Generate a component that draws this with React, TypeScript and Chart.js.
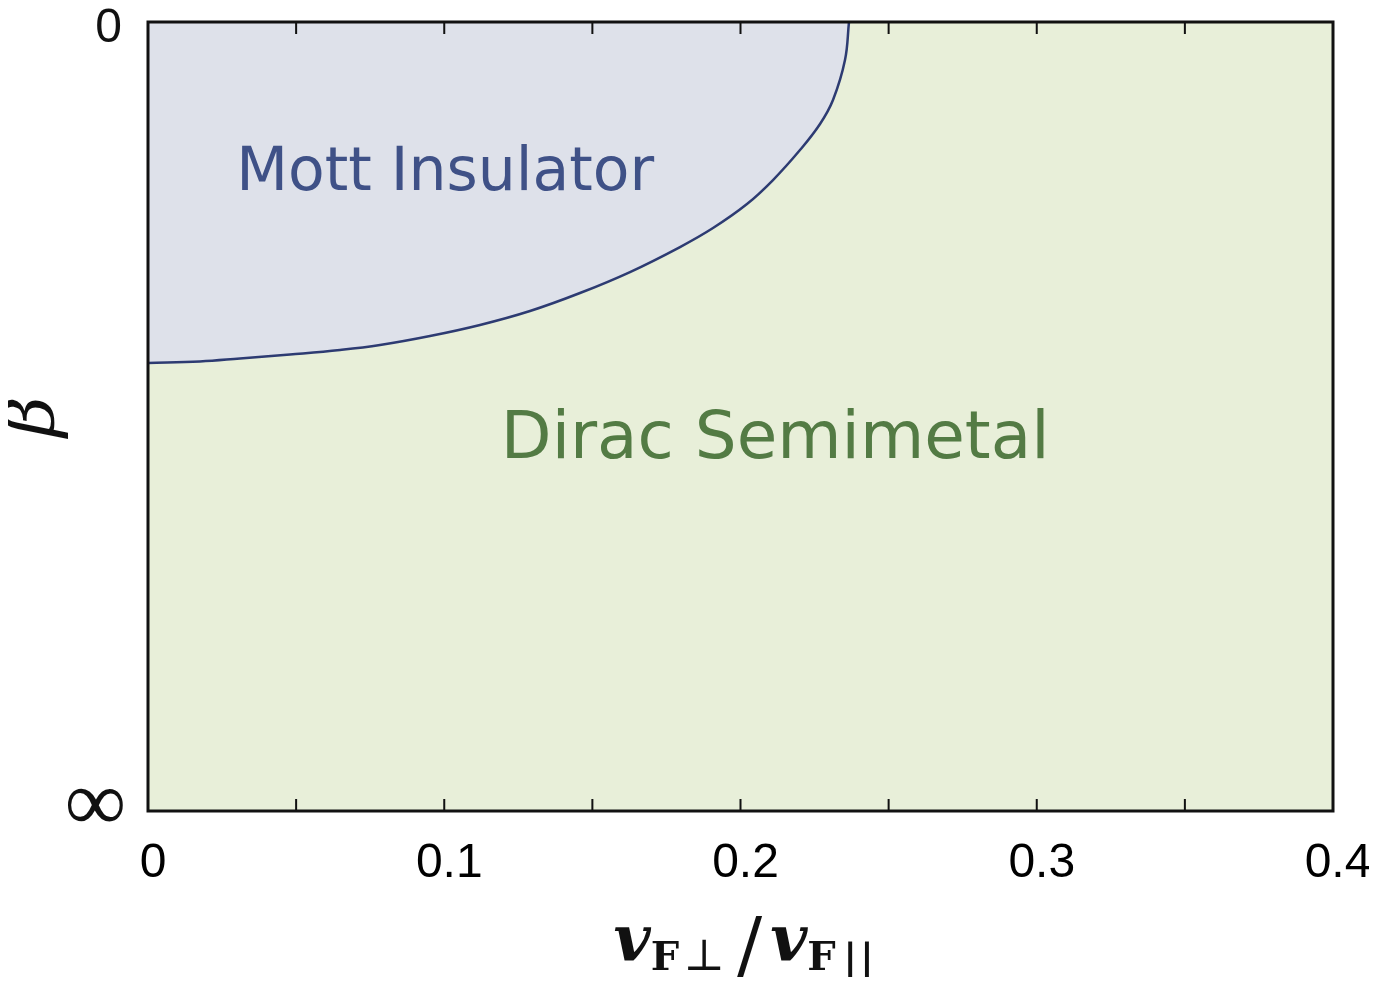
import React, { useEffect, useRef } from 'react';
import { Chart, registerables } from 'chart.js';

Chart.register(...registerables);

// Phase boundary (x = v_F⊥/v_F||, y = β mapped to [0 = "0", 1 = "∞"])
const boundaryX = [0, 0.01755, 0.03105, 0.04793, 0.06481, 0.07831, 0.09519, 0.11207, 0.12895, 0.14582, 0.1627, 0.17958, 0.19072, 0.20219, 0.21097, 0.22008, 0.22684, 0.23122, 0.23527, 0.23662];
const boundaryY = [0.4322, 0.4303, 0.4265, 0.4214, 0.4157, 0.4094, 0.398, 0.384, 0.3663, 0.3435, 0.3169, 0.2852, 0.2611, 0.2307, 0.2003, 0.1623, 0.1293, 0.0989, 0.0482, 0];

const xMin = 0;
const xMax = 0.4;
const xStep = 0.05;
const yTickValues = [0, 1];
const yTickLabels = ['0', '∞'];

const regionNames = ['Mott Insulator', 'Dirac Semimetal'];
const regionX = [0.1003, 0.2117];
const regionY = [0.1876, 0.526];
const regionColors = ['#3f5187', '#537b44'];

const CW = 1361;
const CH = 969;

const bgPlugin = {
  id: 'bgPlugin',
  beforeDatasetsDraw(chart: any) {
    const { ctx, chartArea: a } = chart;
    ctx.save();
    ctx.fillStyle = '#e8efd9';
    ctx.fillRect(a.left, a.top, a.right - a.left, a.bottom - a.top);
    ctx.restore();
  },
  afterDatasetsDraw(chart: any) {
    const { ctx, chartArea: a } = chart;
    const xs = chart.scales.x;
    const ys = chart.scales.y;
    ctx.save();
    const fonts = ['60px "DejaVu Sans"', '66px "DejaVu Sans"'];
    regionNames.forEach((name, i) => {
      ctx.font = fonts[i];
      ctx.fillStyle = regionColors[i];
      ctx.textAlign = 'center';
      ctx.textBaseline = 'middle';
      ctx.fillText(name, xs.getPixelForValue(regionX[i]), ys.getPixelForValue(regionY[i]) + 4);
    });
    ctx.strokeStyle = '#111';
    ctx.lineWidth = 2;
    xs.ticks.forEach((t: any) => {
      const px = xs.getPixelForValue(t.value);
      if (px <= a.left + 2 || px >= a.right - 2) return;
      ctx.beginPath();
      ctx.moveTo(px, a.bottom);
      ctx.lineTo(px, a.bottom - 12);
      ctx.moveTo(px, a.top);
      ctx.lineTo(px, a.top + 12);
      ctx.stroke();
    });
    ctx.lineWidth = 3;
    ctx.strokeRect(a.left, a.top, a.right - a.left, a.bottom - a.top);
    ctx.restore();
  },
  afterDraw(chart: any) {
    const { ctx, chartArea: a } = chart;
    const ys = chart.scales.y;
    ctx.save();
    // y tick labels
    ctx.fillStyle = '#111';
    ctx.textAlign = 'right';
    ctx.textBaseline = 'middle';
    yTickValues.forEach((v, i) => {
      const py = ys.getPixelForValue(v);
      if (i === 0) {
        ctx.font = '48px "Liberation Sans"';
        ctx.fillText(yTickLabels[i], a.left - 26, py + 7);
      } else {
        ctx.font = '86px "Liberation Serif"';
        ctx.fillText(yTickLabels[i], a.left - 22, py - 4);
      }
    });
    // x axis title
    const cx = (a.left + a.right) / 2 + 4;
    const base = 952;
    const pieces = [
      { t: 'v', f: 'italic bold 64px "DejaVu Serif"', dy: 0, gap: 0 },
      { t: 'F', f: 'bold 40px "DejaVu Serif"', dy: 10, gap: 0 },
      { t: '⊥', f: '44px "DejaVu Serif"', dy: 10, gap: 4 },
      { t: '/', f: '76px "DejaVu Serif"', dy: 12, gap: 12 },
      { t: 'v', f: 'italic bold 64px "DejaVu Serif"', dy: 0, gap: 8 },
      { t: 'F', f: 'bold 40px "DejaVu Serif"', dy: 10, gap: 0 },
      { t: '||', f: '50px "DejaVu Serif"', dy: 20, gap: 6 },
    ];
    ctx.textBaseline = 'alphabetic';
    ctx.textAlign = 'left';
    let total = 0;
    const widths = pieces.map((p) => {
      ctx.font = p.f;
      const w = ctx.measureText(p.t).width;
      total += w + p.gap;
      return w;
    });
    let x = cx - total / 2;
    pieces.forEach((p, i) => {
      x += p.gap;
      ctx.font = p.f;
      ctx.fillText(p.t, x, base + p.dy);
      x += widths[i];
    });
    ctx.restore();
  },
};

export default function App() {
  const ref = useRef<HTMLCanvasElement | null>(null);
  useEffect(() => {
    if (!ref.current) return;
    const chart = new Chart(ref.current, {
      type: 'line',
      data: {
        datasets: [
          {
            data: boundaryX.map((x, i) => ({ x, y: boundaryY[i] })),
            borderColor: '#2d3b72',
            borderWidth: 2.5,
            backgroundColor: '#dee1ea',
            fill: { value: 0 },
            pointRadius: 0,
            tension: 0.4,
          },
        ],
      },
      options: {
        responsive: false,
        animation: false,
        events: [],
        layout: { padding: { top: 14, right: 36, bottom: 0, left: 0 } },
        plugins: { legend: { display: false }, tooltip: { enabled: false } },
        scales: {
          x: {
            type: 'linear',
            min: xMin,
            max: xMax,
            grid: { display: false, drawTicks: false },
            border: { display: false },
            ticks: {
              stepSize: xStep,
              autoSkip: false,
              maxRotation: 0,
              padding: 24,
              labelOffset: 5,
              color: '#000',
              font: { family: '"Liberation Sans"', size: 48 },
              callback: (v: any) => {
                const n = Math.round(Number(v) * 100);
                if (n % 10 !== 0) return '';
                return n === 0 ? '0' : (n / 100).toFixed(1);
              },
            },
            afterFit: (s: any) => {
              s.height = CH - 803;
              s.paddingLeft = 0;
              s.paddingRight = 0;
            },
          },
          y: {
            type: 'linear',
            min: 0,
            max: 1,
            reverse: true,
            grid: { display: false, drawTicks: false },
            border: { display: false },
            ticks: { display: false, stepSize: 1 },
            title: {
              display: true,
              text: 'β',
              color: '#111',
              padding: 0,
              font: { family: '"DejaVu Serif"', style: 'italic', size: 70, lineHeight: 0.8 },
            },
            afterFit: (s: any) => {
              s.width = 140;
              s.paddingTop = 0;
              s.paddingBottom = 0;
            },
          },
        },
      },
      plugins: [bgPlugin],
    } as any);
    return () => chart.destroy();
  }, []);
  return (
    <div style={{ width: CW, height: CH }}>
      <canvas ref={ref} width={CW} height={CH} style={{ display: 'block', width: CW, height: CH }} />
    </div>
  );
}
